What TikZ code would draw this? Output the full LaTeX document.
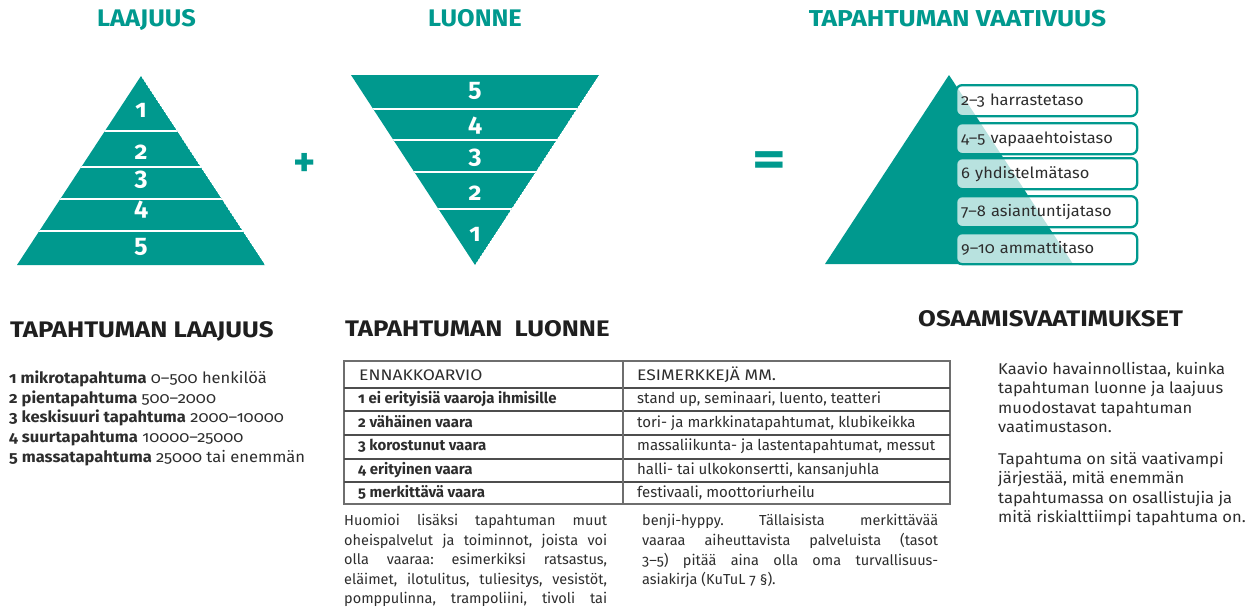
\documentclass[tikz,border=0pt]{standalone}
\usepackage{fontspec}
\setmainfont{Fira Sans}[Numbers=OldStyle]
\newfontfamily\bodyf{Fira Sans}[Numbers=OldStyle,FakeStretch=1.06]
\newfontfamily\headf{Fira Sans}[Numbers=OldStyle,FakeStretch=1.145]
\definecolor{teal1}{RGB}{0,153,142}
\definecolor{txt}{RGB}{45,45,45}
\definecolor{rule}{RGB}{110,110,110}
\begin{document}
\frenchspacing
\begin{tikzpicture}[x=1pt,y=-1pt,
  title/.style={text=teal1,font=\bodyf\fontsize{24}{26}\selectfont\bfseries,anchor=base,inner sep=0},
  head/.style={text=black!88,font=\headf\fontsize{22.5}{24}\selectfont\bfseries,anchor=base west,inner sep=0},
  body/.style={text=txt,font=\bodyf\fontsize{15.6}{19.5}\selectfont,anchor=base west,inner sep=0},
  para/.style={text=txt,font=\fontsize{14.5}{19.5}\selectfont,anchor=base west,inner sep=0},
  tbl/.style={text=txt,font=\fontsize{15}{18}\selectfont,anchor=base west,inner sep=0},
  tblh/.style={text=txt,font=\headf\fontsize{15.3}{18}\selectfont,anchor=base west,inner sep=0},
  pnum/.style={text=white,font=\fontsize{25}{26}\selectfont\bfseries,anchor=base,inner sep=0},
  sym/.style={text=teal1,font=\fontsize{42}{42}\selectfont\bfseries,anchor=center,inner sep=0},
  lvl/.style={draw=teal1,line width=2.3pt,rounded corners=6pt,fill=white,fill opacity=0.72,text opacity=1,
    text=txt,font=\bodyf\fontsize{15.5}{18}\selectfont,minimum width=181pt,minimum height=31pt,
    text width=171pt,align=left,inner xsep=5pt,anchor=north west},
  sep/.style={white,line width=2.4pt}
]
\useasboundingbox (0,0) rectangle (1248,606);

% ---------- titles ----------
\node[title] (tA) at (146.5,26) {LAAJUUS};
\node[title] (tB) at (475,26) {LUONNE};
\node[title,font=\headf\fontsize{23}{26}\selectfont\bfseries] (tC) at (957.5,26) {TAPAHTUMAN VAATIVUUS};

% ---------- left pyramid ----------
\begin{scope}
\clip (141,76) -- (17,265) -- (265,265) -- cycle;
\fill[teal1] (141,76) -- (17,265) -- (265,265) -- cycle;
\foreach \yy in {131,167,199,231} \draw[sep] (0,\yy) -- (300,\yy);
\end{scope}
\node[pnum] (l1) at (141,117) {1};
\node[pnum] (l2) at (141,159) {2};
\node[pnum] (l3) at (141,185) {3};
\node[pnum] (l4) at (141,215) {4};
\node[pnum] (l5) at (141,252) {5};

\node[sym] (plus) at (305,165) {+};

% ---------- inverted pyramid ----------
\begin{scope}
\clip (351,75) -- (599,75) -- (475,265) -- cycle;
\fill[teal1] (351,75) -- (599,75) -- (475,265) -- cycle;
\foreach \yy in {109,140,172,209} \draw[sep] (340,\yy) -- (610,\yy);
\end{scope}
\node[pnum] (r5) at (475,96) {5};
\node[pnum] (r4) at (475,131) {4};
\node[pnum] (r3) at (475,163) {3};
\node[pnum] (r2) at (475,200) {2};
\node[pnum] (r1) at (475,241) {1};

\node[sym,font=\fontsize{50}{50}\selectfont\bfseries] (eq) at (769,164) {\scalebox{1.3}[1]{=}};

% ---------- right pyramid ----------
\fill[teal1] (825,264) -- (949,75) -- (1073,264) -- cycle;
\node[lvl] (v1) at (955,84)  {2–3 harrastetaso};
\node[lvl] (v2) at (955,122) {4–5 vapaaehtoistaso};
\node[lvl] (v3) at (955,157) {6 yhdistelmätaso};
\node[lvl] (v4) at (955,195) {7–8 asiantuntijataso};
\node[lvl] (v5) at (955,232) {9–10 ammattitaso};

% ---------- TAPAHTUMAN LAAJUUS ----------
\node[head] (hL) at (10,337) {TAPAHTUMAN LAAJUUS};
\node[body] (a1) at (9,383)   {\textbf{1 mikrotapahtuma} 0–500 henkilöä};
\node[body] (a2) at (9,403)   {\textbf{2 pientapahtuma} 500–2000};
\node[body] (a3) at (9,422.5) {\textbf{3 keskisuuri tapahtuma} 2000–10000};
\node[body] (a4) at (9,442)   {\textbf{4 suurtapahtuma} 10000–25000};
\node[body] (a5) at (9,462)   {\textbf{5 massatapahtuma} 25000 tai enemmän};

% ---------- TAPAHTUMAN LUONNE ----------
\node[head] (hN) at (345,336) {TAPAHTUMAN\ \ LUONNE};
\draw[rule,line width=1.6pt] (344,361) rectangle (950,504);
\foreach \yy in {388,411,435,459,482} \draw[rule!70!black,line width=1.2pt] (344,\yy) -- (950,\yy);
\draw[rule,line width=1.2pt] (623,361) -- (623,504);
\node[tblh] (c0) at (359,380) {ENNAKKOARVIO};
\node[tblh] (d0) at (637,380) {ESIMERKKEJÄ MM.};
\node[tbl] (c1) at (358,403) {\textbf{1 ei erityisiä vaaroja ihmisille}};
\node[tbl] (d1) at (637,403) {stand up, seminaari, luento, teatteri};
\node[tbl] (c2) at (358,427) {\textbf{2 vähäinen vaara}};
\node[tbl] (d2) at (637,427) {tori- ja markkinatapahtumat, klubikeikka};
\node[tbl] (c3) at (358,450) {\textbf{3 korostunut vaara}};
\node[tbl] (d3) at (637,450) {massaliikunta- ja lastentapahtumat, messut};
\node[tbl] (c4) at (358,474) {\textbf{4 erityinen vaara}};
\node[tbl] (d4) at (637,474) {halli- tai ulkokonsertti, kansanjuhla};
\node[tbl] (c5) at (358,497) {\textbf{5 merkittävä vaara}};
\node[tbl] (d5) at (637,497) {festivaali, moottoriurheilu};

\node[para] (p1) at (344,525.5) {\makebox[263pt][s]{Huomioi lisäksi tapahtuman muut}};
\node[para] (p2) at (344,545)   {\makebox[263pt][s]{oheispalvelut ja toiminnot, joista voi}};
\node[para] (p3) at (344,564.5) {\makebox[263pt][s]{olla vaaraa: esimerkiksi ratsastus,}};
\node[para] (p4) at (344,584)   {\makebox[263pt][s]{eläimet, ilotulitus, tuliesitys, vesistöt,}};
\node[para] (p5) at (344,603)   {\makebox[263pt][s]{pomppulinna, trampoliini, tivoli tai}};
\node[para] (q1) at (642,525)   {\makebox[296pt][s]{benji-hyppy. Tällaisista merkittävää}};
\node[para] (q2) at (642,545)   {\makebox[296pt][s]{vaaraa aiheuttavista palveluista (tasot}};
\node[para] (q3) at (642,565)   {\makebox[296pt][s]{3–5) pitää aina olla oma turvallisuus-}};
\node[para] (q4) at (642,584)   {asiakirja (KuTuL 7 §).};

% ---------- OSAAMISVAATIMUKSET ----------
\node[head] (hO) at (918,326) {OSAAMISVAATIMUKSET};
\node[body] (k1) at (998,374)   {Kaavio havainnollistaa, kuinka};
\node[body] (k2) at (998,393.5) {tapahtuman luonne ja laajuus};
\node[body] (k3) at (998,413)   {muodostavat tapahtuman};
\node[body] (k4) at (998,432.5) {vaatimustason.};
\node[body] (k5) at (998,464)   {Tapahtuma on sitä vaativampi};
\node[body] (k6) at (998,483.5) {järjestää, mitä enemmän};
\node[body] (k7) at (998,503)   {tapahtumassa on osallistujia ja};
\node[body] (k8) at (998,522.5) {mitä riskialttiimpi tapahtuma on.};
\end{tikzpicture}
\end{document}
